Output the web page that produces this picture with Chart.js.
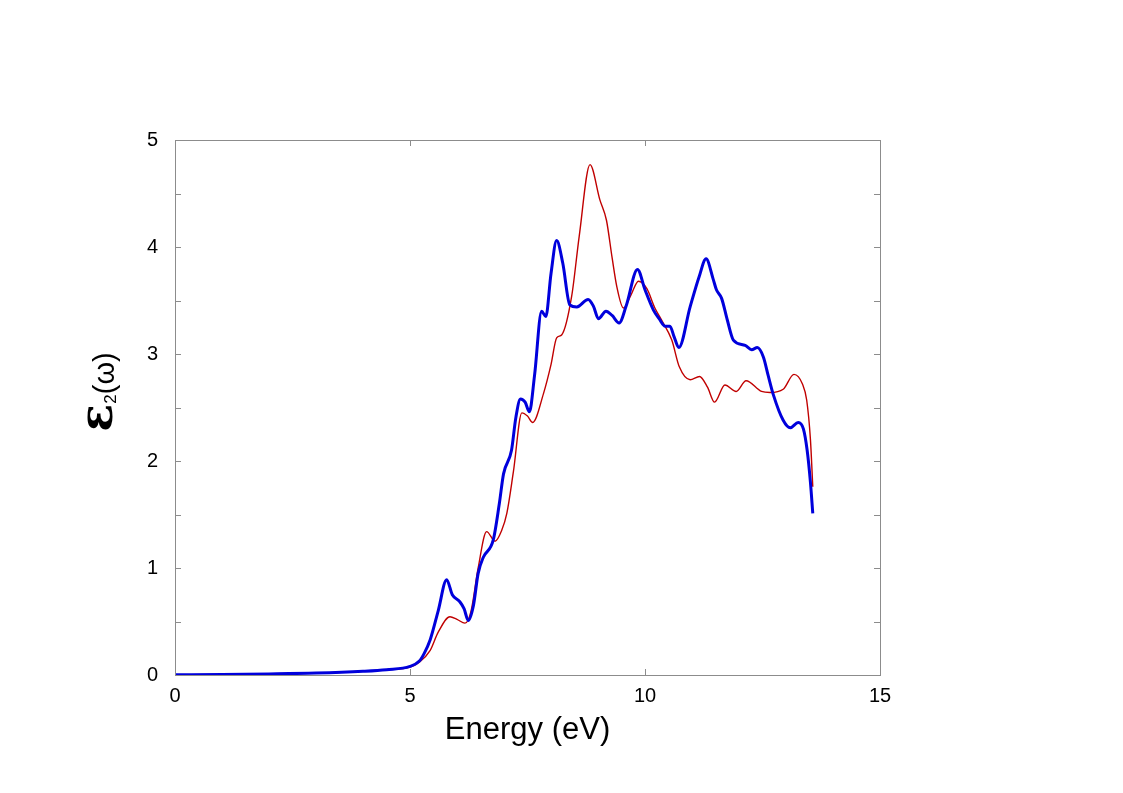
<!DOCTYPE html>
<html>
<head>
<meta charset="utf-8">
<script src="https://cdn.jsdelivr.net/npm/chart.js@4/dist/chart.umd.min.js"></script>
<style>
  html, body { margin: 0; padding: 0; background: #fff; }
  #wrap { width: 1123px; height: 793px; }
</style>
</head>
<body>
<div id="wrap"><canvas id="c" width="1123" height="793"></canvas></div>
<script>
// energy (eV) and eps2 values
const energyBlue = [0, 1, 2, 3, 4, 4.5, 5, 5.2, 5.3, 5.43, 5.6, 5.78, 5.9, 6.06, 6.15, 6.24, 6.35, 6.45, 6.56, 6.77, 6.9, 6.99, 7.16, 7.25, 7.35, 7.45, 7.54, 7.65, 7.8, 7.89, 8.0, 8.12, 8.25, 8.4, 8.55, 8.79, 8.9, 9.01, 9.17, 9.3, 9.45, 9.6, 9.84, 10.0, 10.18, 10.3, 10.43, 10.53, 10.62, 10.72, 10.96, 11.15, 11.3, 11.45, 11.52, 11.63, 11.75, 11.88, 12.13, 12.27, 12.39, 12.52, 12.62, 12.73, 12.94, 13.09, 13.26, 13.37, 13.45, 13.52, 13.57];
const epsBlue = [0.002, 0.005, 0.01, 0.018, 0.035, 0.05, 0.08, 0.13, 0.2, 0.33, 0.6, 0.89, 0.75, 0.685, 0.62, 0.51, 0.65, 0.95, 1.1, 1.26, 1.6, 1.88, 2.1, 2.4, 2.58, 2.55, 2.46, 2.8, 3.4, 3.35, 3.75, 4.06, 3.85, 3.46, 3.44, 3.51, 3.45, 3.33, 3.4, 3.36, 3.29, 3.45, 3.79, 3.6, 3.41, 3.33, 3.26, 3.26, 3.16, 3.06, 3.44, 3.72, 3.89, 3.7, 3.6, 3.52, 3.32, 3.13, 3.08, 3.04, 3.06, 2.97, 2.8, 2.62, 2.38, 2.31, 2.36, 2.3, 2.1, 1.8, 1.51];

const energyRed = [0, 1, 2, 3, 4, 4.5, 5, 5.2, 5.43, 5.6, 5.85, 6.0, 6.17, 6.3, 6.45, 6.63, 6.81, 6.95, 7.06, 7.2, 7.38, 7.5, 7.61, 7.84, 8.0, 8.12, 8.23, 8.44, 8.6, 8.83, 9.04, 9.18, 9.3, 9.4, 9.54, 9.7, 9.86, 10.04, 10.21, 10.35, 10.57, 10.73, 10.96, 11.16, 11.33, 11.48, 11.7, 11.94, 12.15, 12.48, 12.66, 12.94, 13.17, 13.35, 13.44, 13.52, 13.57];
const epsRed = [0.002, 0.005, 0.01, 0.018, 0.035, 0.05, 0.075, 0.12, 0.23, 0.4, 0.545, 0.52, 0.485, 0.6, 1.0, 1.34, 1.25, 1.35, 1.51, 1.9, 2.45, 2.42, 2.36, 2.63, 2.9, 3.15, 3.18, 3.54, 4.1, 4.77, 4.44, 4.25, 3.9, 3.63, 3.43, 3.55, 3.68, 3.61, 3.43, 3.32, 3.13, 2.88, 2.76, 2.79, 2.69, 2.55, 2.71, 2.65, 2.75, 2.65, 2.64, 2.67, 2.81, 2.72, 2.57, 2.2, 1.76];

const xTicks = [0, 5, 10, 15];
const yTicks = [0, 1, 2, 3, 4, 5];
const yMinorStep = 0.5;

const toPts = (xs, ys) => xs.map((x, i) => ({ x: x, y: ys[i] }));

const frame = {
  id: 'frame',
  afterDraw(chart) {
    const ctx = chart.ctx;
    const a = chart.chartArea;
    const xs = chart.scales.x, ys = chart.scales.y;
    ctx.save();
    ctx.strokeStyle = '#8c8c8c';
    ctx.lineWidth = 1;
    ctx.strokeRect(a.left + 0.5, a.top + 0.5, a.right - a.left, a.bottom - a.top);
    ctx.beginPath();
    xTicks.forEach(v => {
      const px = Math.round(xs.getPixelForValue(v)) + 0.5;
      ctx.moveTo(px, a.bottom); ctx.lineTo(px, a.bottom - 6);
      ctx.moveTo(px, a.top); ctx.lineTo(px, a.top + 6);
    });
    for (let v = 0; v <= 5; v += yMinorStep) {
      const py = Math.round(ys.getPixelForValue(v)) + 0.5;
      ctx.moveTo(a.left, py); ctx.lineTo(a.left + 6, py);
      ctx.moveTo(a.right, py); ctx.lineTo(a.right - 6, py);
    }
    ctx.stroke();

    // axis titles
    ctx.fillStyle = '#000';
    ctx.font = '31px "Liberation Sans", Arial, sans-serif';
    ctx.textAlign = 'center';
    ctx.textBaseline = 'alphabetic';
    ctx.fillText('Energy (eV)', (a.left + a.right) / 2, 739);

    ctx.translate(114, 392);
    ctx.rotate(-Math.PI / 2);
    ctx.textAlign = 'left';
    const f1 = 'bold 46px "DejaVu Serif", serif';
    const f2 = '17px "Liberation Sans", Arial, sans-serif';
    const f3 = '29px "Liberation Sans", Arial, sans-serif';
    ctx.font = f1; const w1 = ctx.measureText('\u025B').width;
    ctx.font = f2; const w2 = ctx.measureText('2').width;
    ctx.font = f3; const w3 = ctx.measureText('(\u03C9)').width;
    let u = -(w1 + w2 + w3) / 2;
    ctx.font = f1; ctx.fillText('\u025B', u, -2); u += w1;
    ctx.font = f2; ctx.fillText('2', u, 2); u += w2;
    ctx.font = f3; ctx.fillText('(\u03C9)', u, 0);
    ctx.restore();
  }
};

new Chart(document.getElementById('c'), {
  type: 'line',
  data: {
    datasets: [
      {
        label: 'blue',
        data: toPts(energyBlue, epsBlue),
        borderColor: '#0000dc',
        borderWidth: 3,
        pointRadius: 0,
        fill: false,
        cubicInterpolationMode: 'monotone'
      },
      {
        label: 'red',
        data: toPts(energyRed, epsRed),
        borderColor: '#c00000',
        borderWidth: 1.4,
        pointRadius: 0,
        fill: false,
        cubicInterpolationMode: 'monotone'
      }
    ]
  },
  options: {
    responsive: false,
    animation: false,
    layout: { padding: { top: 140, right: 243, left: 0, bottom: 0 } },
    plugins: { legend: { display: false }, tooltip: { enabled: false } },
    scales: {
      x: {
        type: 'linear',
        min: 0, max: 15,
        afterBuildTicks: s => { s.ticks = xTicks.map(v => ({ value: v })); },
        afterFit: s => { s.height = 118; },
        grid: { display: false },
        border: { display: false },
        ticks: { color: '#000', padding: 1, font: { size: 20, family: '"Liberation Sans", Arial, sans-serif' } }
      },
      y: {
        min: 0, max: 5,
        afterBuildTicks: s => { s.ticks = yTicks.map(v => ({ value: v })); },
        afterFit: s => { s.width = 175; },
        grid: { display: false },
        border: { display: false },
        ticks: { color: '#000', padding: 9, font: { size: 20, family: '"Liberation Sans", Arial, sans-serif' } }
      }
    }
  },
  plugins: [frame]
});
</script>
</body>
</html>
